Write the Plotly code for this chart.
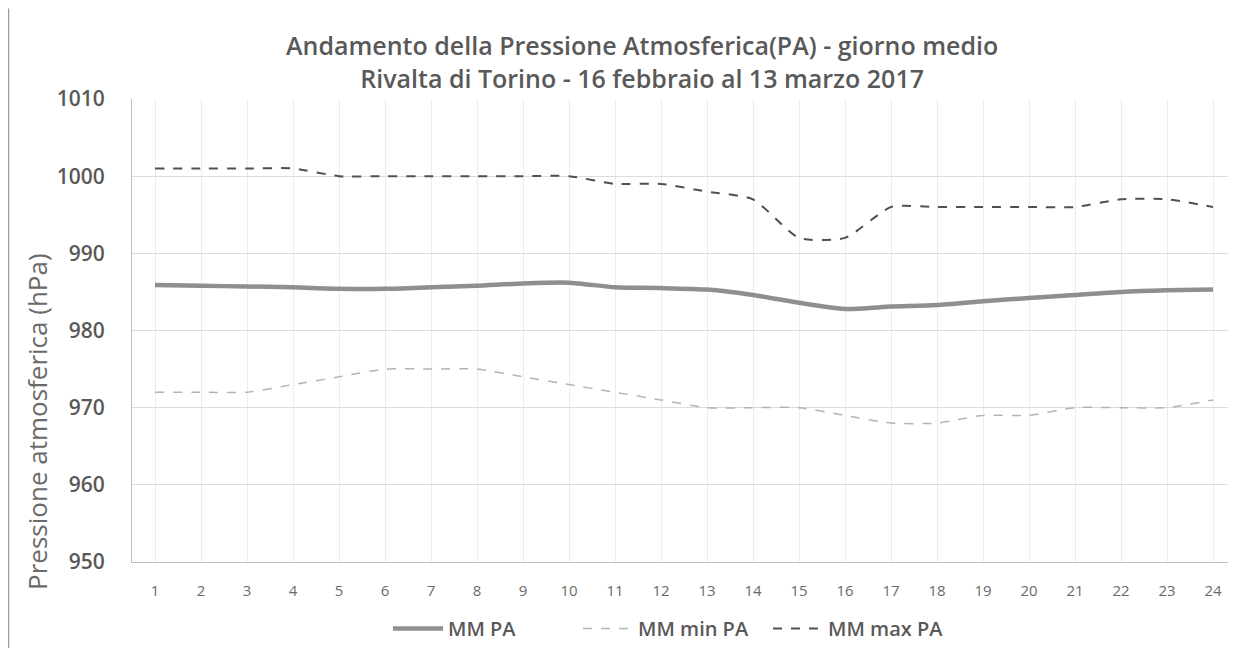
import plotly.graph_objects as go

# ore del giorno medio
ore = list(range(1, 25))

mm_pa = [985.9, 985.8, 985.7, 985.6, 985.4, 985.4, 985.6, 985.8, 986.1, 986.2, 985.6, 985.5,
         985.3, 984.6, 983.6, 982.8, 983.1, 983.3, 983.8, 984.2, 984.6, 985.0, 985.2, 985.3]
mm_min_pa = [972, 972, 972, 973, 974, 975, 975, 975, 974, 973, 972, 971,
             970, 970, 970, 969, 968, 968, 969, 969, 970, 970, 970, 971]
mm_max_pa = [1001, 1001, 1001, 1001, 1000, 1000, 1000, 1000, 1000, 1000, 999, 999,
             998, 997, 992, 992, 996, 996, 996, 996, 996, 997, 997, 996]

y_ticks = [950, 960, 970, 980, 990, 1000, 1010]

titolo = ("Andamento della Pressione Atmosferica(PA) - giorno medio<br>"
          "Rivalta di Torino - 16 febbraio al 13 marzo 2017")

FONT = "Open Sans"
GREY_TXT = "#595959"

# area del grafico in pixel (la pagina aggiunge 8px di margine al body)
L, R, T, B = 124, 8, 91, 91
PW, PH = 1236 - L - R, 648 - T - B


def px_x(x):
    return (x - L) / PW


def px_y(y):
    return (648 - B - y) / PH


fig = go.Figure()
fig.add_trace(go.Scatter(
    x=ore, y=mm_pa, mode="lines", name="MM PA",
    line=dict(color="#8f8f8f", width=4.5, shape="spline", smoothing=0.6),
))
fig.add_trace(go.Scatter(
    x=ore, y=mm_min_pa, mode="lines", name="MM min PA",
    line=dict(color="#b3b3b3", width=1.5, dash="dash", shape="spline", smoothing=0.6),
))
fig.add_trace(go.Scatter(
    x=ore, y=mm_max_pa, mode="lines", name="MM max PA",
    line=dict(color="#505050", width=2, dash="dash", shape="spline", smoothing=0.6),
))

fig.update_layout(
    width=1236, height=648,
    margin=dict(l=L, r=R, t=T, b=B),
    paper_bgcolor="white", plot_bgcolor="white",
    font=dict(family=FONT, color=GREY_TXT),
    legend=dict(
        orientation="h", x=px_x(665), xanchor="center",
        y=px_y(624), yanchor="middle",
        font=dict(size=20, color=GREY_TXT, weight=600), itemwidth=50,
        entrywidth=125,
    ),
    shapes=[dict(type="line", xref="paper", yref="paper",
                 x0=px_x(0.5), x1=px_x(0.5), y0=px_y(648), y1=px_y(0),
                 line=dict(color="#9a9a9a", width=1.5))],
    annotations=[
        dict(text=titolo, xref="paper", yref="paper", x=px_x(634), y=px_y(53),
             xanchor="center", yanchor="middle", showarrow=False,
             font=dict(family=FONT, size=25, color=GREY_TXT, weight=600)),
        dict(text="Pressione atmosferica (hPa)", textangle=-90,
             xref="paper", yref="paper", x=px_x(29), y=px_y(416),
             xanchor="center", yanchor="middle", showarrow=False,
             font=dict(size=26, color="#6a6a6a")),
    ],
)
fig.update_xaxes(
    tickvals=ore, ticktext=[str(h) for h in ore], range=[0.5, 24.5],
    showgrid=True, gridcolor="#ececec", showline=True, linecolor="#bfbfbf",
    ticks="", tickfont=dict(size=15, color="#6a6a6a"), zeroline=False,
    ticklabelstandoff=15, automargin=False,
)
fig.update_yaxes(
    range=[950, 1010], tickvals=y_ticks,
    showgrid=True, gridcolor="#dcdcdc", showline=True, linecolor="#bfbfbf",
    tickfont=dict(size=21, color=GREY_TXT, weight=600), ticklabelstandoff=22,
    zeroline=False, automargin=False,
)

fig.write_html("out.html")
